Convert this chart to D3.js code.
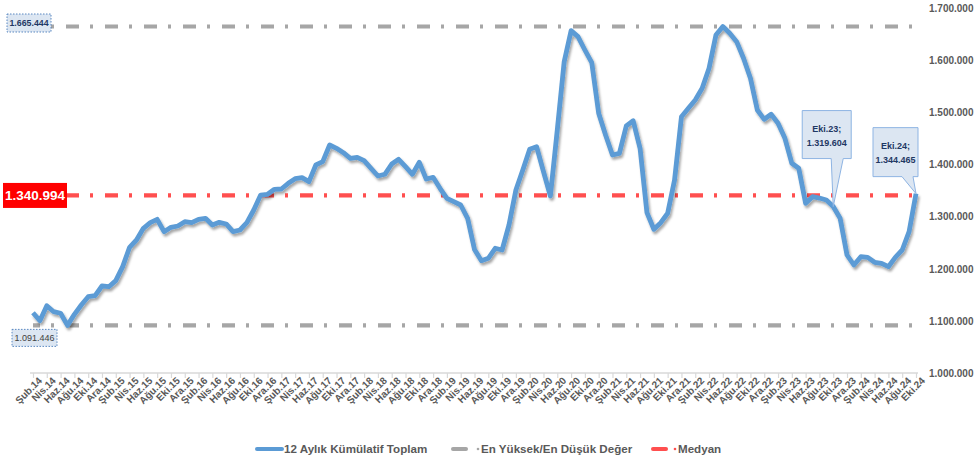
<!DOCTYPE html>
<html>
<head>
<meta charset="utf-8">
<script src="https://cdn.jsdelivr.net/npm/d3@7"></script>
<style>
    html, body { margin: 0; padding: 0; background: #fff; }
    svg { display: block; font-family: "Liberation Sans", Arial, sans-serif; }
</style>
</head>
<body>
<svg id="chart" width="975" height="465"></svg>
<script>
// ay adlari ve yillar (Şub.14 - Eki.24)
var ayAdlari = ['Oca', 'Şub', 'Mar', 'Nis', 'May', 'Haz', 'Tem', 'Ağu', 'Eyl', 'Eki', 'Kas', 'Ara'];
var ilkAy = 1, ilkYil = 14, aySayisi = 129;

// 12 aylik kumulatif toplam
var kumulatif = [
    1115800, 1100400, 1129200, 1117700, 1114700, 1091446, 1112700, 1130600, 1146500, 1148500, 1167100,
    1165700, 1177300, 1204200, 1241400, 1255400, 1277900, 1288700, 1295100, 1271400, 1279800, 1282300, 1290600,
    1288700, 1295100, 1297100, 1284200, 1289400, 1286200, 1271400, 1274600, 1288700, 1313000, 1341800, 1343200,
    1352800, 1353400, 1364300, 1373200, 1375100, 1367400, 1399500, 1405800, 1437900, 1431500, 1423100, 1412300,
    1414200, 1407700, 1393100, 1378300, 1381600, 1401400, 1410400, 1396200, 1381600, 1404600, 1372600, 1375800,
    1354700, 1335500, 1329000, 1322600, 1297100, 1237000, 1215700, 1220300, 1239500, 1236200, 1284200, 1351500,
    1389900, 1429600, 1434600, 1386600, 1339900, 1466700, 1597900, 1657400, 1645900, 1620300, 1595900, 1498800,
    1457100, 1418700, 1421900, 1474400, 1484500, 1431500, 1307900, 1276000, 1288700, 1306700, 1370700, 1492200,
    1508300, 1524300, 1546800, 1585200, 1649100, 1665444, 1652400, 1636300, 1604400, 1566000, 1505100, 1487200,
    1496800, 1479500, 1450700, 1402700, 1393100, 1325900, 1338600, 1336000, 1332200, 1319604, 1297100, 1226600,
    1207400, 1223400, 1222000, 1212600, 1210700, 1204100, 1222200, 1236200, 1271400, 1344465
];

var enYuksek = 1665444,
    enDusuk = 1091446,
    medyan = 1340994;

var yTickleri = [1000000, 1100000, 1200000, 1300000, 1400000, 1500000, 1600000, 1700000];

// etiketli noktalar (Eki.23, Eki.24)
var etiketliNoktalar = [116, 128];

var legendAdlari = ['12 Aylık Kümülatif Toplam', 'En Yüksek/En Düşük Değer', 'Medyan'];

var aylar = d3.range(aySayisi).map(function (i) {
    var m = ilkAy + i;
    return ayAdlari[m % 12] + '.' + (ilkYil + Math.floor(m / 12));
});

var trFormat = d3.formatLocale({ decimal: ',', thousands: '.', grouping: [3], currency: ['', ''] }).format(',d');

var svg = d3.select('#chart'),
    mavi = '#5b9bd5',
    gri = '#a6a6a6',
    kirmizi = '#ff4f4f',
    yaziRengi = '#595959',
    lacivert = '#1f3864';

var x = d3.scalePoint().domain(d3.range(aySayisi)).range([33, 916]);
var y = d3.scaleLinear().domain([1000000, 1700000]).range([373, 8.5]);

// golge filtresi
var defs = svg.append('defs');
defs.append('filter').attr('id', 'golge')
    .attr('x', '-5%').attr('y', '-5%').attr('width', '110%').attr('height', '115%')
    .append('feDropShadow')
    .attr('dx', 1.5).attr('dy', 2.5).attr('stdDeviation', 1.3)
    .attr('flood-color', '#000').attr('flood-opacity', 0.35);

// x ekseni
var xAxis = d3.axisBottom(x)
    .tickValues(d3.range(0, aySayisi, 2))
    .tickFormat(function (i) { return aylar[i]; })
    .tickSizeInner(5)
    .tickSizeOuter(0)
    .tickPadding(2);

var gx = svg.append('g')
    .attr('transform', 'translate(0,' + y(1000000) + ')')
    .call(xAxis);
gx.select('.domain').attr('stroke', '#d9d9d9').attr('stroke-width', 1.5)
    .attr('d', 'M30,0H918');
gx.selectAll('.tick line').attr('stroke', '#d9d9d9').attr('stroke-width', 1.2);
gx.selectAll('.tick text')
    .attr('fill', yaziRengi)
    .style('font-size', '10px')
    .style('font-weight', 'bold')
    .attr('text-anchor', 'end')
    .attr('transform', 'translate(5,4) rotate(-45)')
    .attr('dy', '0.6em')
    .attr('y', 0)
    .attr('x', 0);

// y ekseni (sag)
var yAxis = d3.axisRight(y).tickValues(yTickleri).tickFormat(trFormat).tickSize(0).tickPadding(0);
var gy = svg.append('g').attr('transform', 'translate(929,0)').call(yAxis);
gy.select('.domain').remove();
gy.selectAll('text')
    .attr('fill', yaziRengi)
    .style('font-size', '10px')
    .style('font-weight', 'bold');

// yatay referans cizgileri
function referansCizgisi(deger, renk) {
    svg.append('line')
        .attr('x1', x(0)).attr('x2', x(aySayisi - 1))
        .attr('y1', y(deger)).attr('y2', y(deger))
        .attr('stroke', renk)
        .attr('stroke-width', 4.2)
        .attr('stroke-dasharray', '13,11,3,12')
        .attr('stroke-dashoffset', x(0) - 27);
}
referansCizgisi(enYuksek, gri);
referansCizgisi(enDusuk, gri);
referansCizgisi(medyan, kirmizi);

// ana seri
var line = d3.line()
    .x(function (d, i) { return x(i); })
    .y(function (d) { return y(d); });

svg.append('path')
    .datum(kumulatif)
    .attr('fill', 'none')
    .attr('stroke', mavi)
    .attr('stroke-width', 4.8)
    .attr('stroke-linejoin', 'round')
    .attr('filter', 'url(#golge)')
    .attr('d', line);

// en yuksek / en dusuk etiketleri
function kutuEtiket(deger, kx, ky, w, h, kalin) {
    svg.append('rect')
        .attr('x', kx).attr('y', ky).attr('width', w).attr('height', h)
        .attr('fill', '#dce6f2')
        .attr('stroke', '#4a7ebb')
        .attr('stroke-width', 0.9)
        .attr('stroke-dasharray', '1.5,1.5');
    svg.append('text')
        .attr('x', kx + w / 2).attr('y', ky + h / 2)
        .attr('dy', '0.35em')
        .attr('text-anchor', 'middle')
        .attr('fill', kalin ? lacivert : '#404040')
        .style('font-size', kalin ? '8.8px' : '9px')
        .style('font-weight', kalin ? 'bold' : 'normal')
        .text(trFormat(deger));
}
kutuEtiket(enYuksek, 7, 14, 44, 18, true);
kutuEtiket(enDusuk, 12, y(enDusuk) + 4, 45, 17, false);

// medyan etiketi
svg.append('rect')
    .attr('x', 3).attr('y', y(medyan) - 12.5)
    .attr('width', 64).attr('height', 25)
    .attr('fill', '#ff0000');
svg.append('text')
    .attr('x', 35).attr('y', y(medyan))
    .attr('dy', '0.36em')
    .attr('text-anchor', 'middle')
    .attr('fill', '#fff')
    .style('font-size', '13.5px')
    .style('font-weight', 'bold')
    .text(trFormat(medyan));

// veri etiketleri (balon)
var balonAyar = {
    116: { sol: -31, ust: -96, w: 49, h: 48, p1: -2, p2: 10 },
    128: { sol: -43, ust: -66, w: 45, h: 49, p1: -14, p2: -3 }
};
etiketliNoktalar.forEach(function (i) {
    var px = x(i), py = y(kumulatif[i]), a = balonAyar[i],
        L = px + a.sol, T = py + a.ust, R = L + a.w, B = T + a.h;
    svg.append('path')
        .attr('d', 'M' + L + ',' + T + 'H' + R + 'V' + B + 'H' + (px + a.p2) +
            'L' + px + ',' + py + 'L' + (px + a.p1) + ',' + B + 'H' + L + 'Z')
        .attr('fill', '#dce6f2')
        .attr('stroke', '#8eb4e3')
        .attr('stroke-width', 1);
    var t = svg.append('text')
        .attr('text-anchor', 'middle')
        .attr('fill', lacivert)
        .style('font-size', '9px')
        .style('font-weight', 'bold');
    t.append('tspan').attr('x', (L + R) / 2).attr('y', T + a.h / 2 - 3).text(aylar[i] + ';');
    t.append('tspan').attr('x', (L + R) / 2).attr('y', T + a.h / 2 + 11).text(trFormat(kumulatif[i]));
});

// legend
var legend = svg.append('g').attr('transform', 'translate(0,449)');
legend.append('line').attr('x1', 257).attr('x2', 282).attr('y1', 0).attr('y2', 0)
    .attr('stroke', mavi).attr('stroke-width', 4).attr('stroke-linecap', 'round');
[[453, 478, gri], [653, 675, kirmizi]].forEach(function (d) {
    legend.append('line').attr('x1', d[0]).attr('x2', d[0] + 13).attr('y1', 0).attr('y2', 0)
        .attr('stroke', d[2]).attr('stroke-width', 4).attr('stroke-linecap', 'round');
    legend.append('circle').attr('cx', d[1]).attr('cy', 0).attr('r', 1.3).attr('fill', d[2]);
});
legend.selectAll('text.leg')
    .data(legendAdlari)
    .enter().append('text')
    .attr('class', 'leg')
    .attr('x', function (d, i) { return [284, 481, 678][i]; })
    .attr('y', 0)
    .attr('dy', '0.35em')
    .attr('fill', yaziRengi)
    .style('font-size', '11.6px')
    .style('font-weight', 'bold')
    .text(function (d) { return d; });
</script>
</body>
</html>
